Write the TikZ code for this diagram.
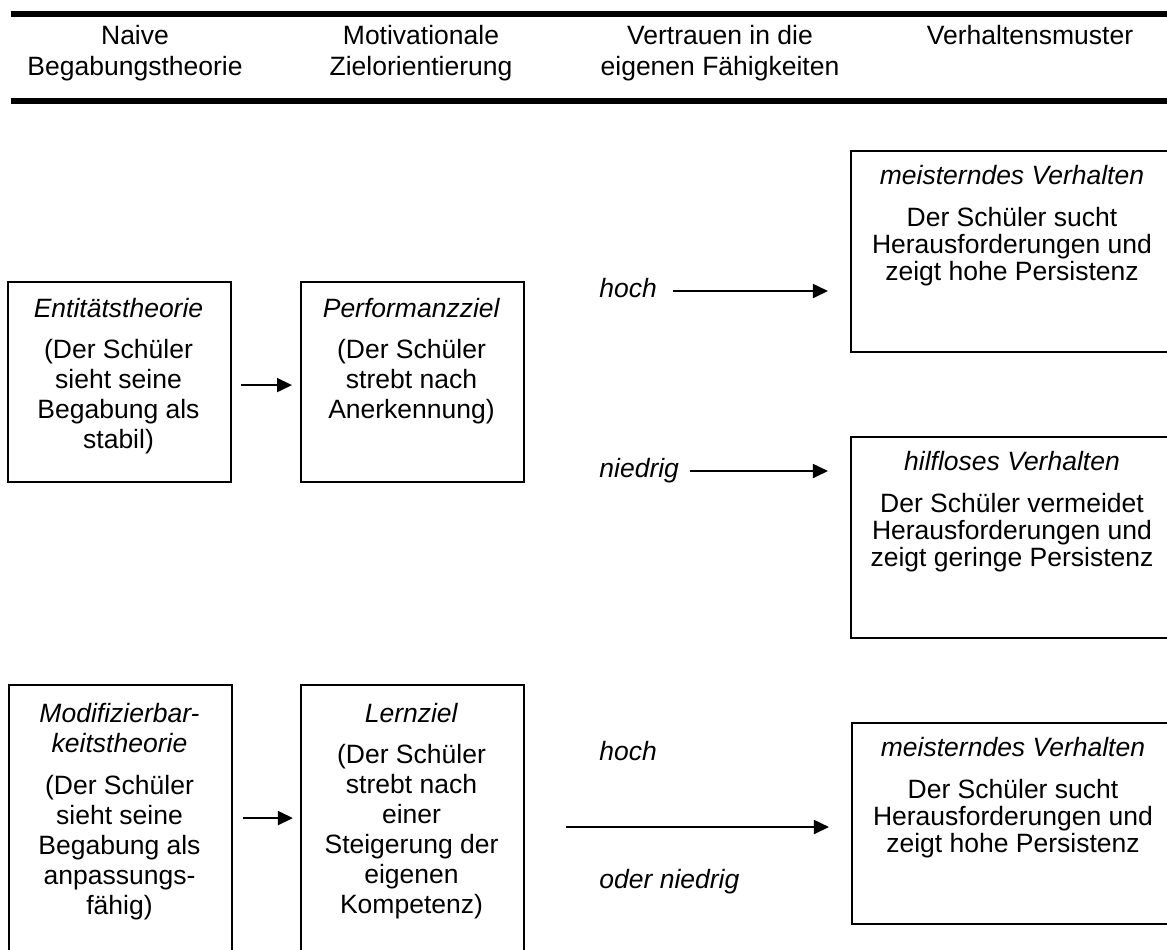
\documentclass[tikz,border=0pt]{standalone}
\usepackage{fontspec}
\setmainfont{Liberation Sans}
\usetikzlibrary{arrows.meta}
\newcommand\mystrut{\rule{0pt}{9.5pt}}
\begin{document}
\begin{tikzpicture}[x=0.4528pt,y=-0.4528pt,
  box/.style={draw, line width=0.9pt, anchor=north west, inner sep=0pt, minimum width=100.97pt, minimum height=90.56pt},
  rbox/.style={box, minimum width=147.2pt, minimum height=91pt},
  lbox/.style={box, minimum height=140pt},
  ltext/.style={anchor=north, inner sep=0pt, align=center, font=\fontsize{12}{13.6}\selectfont},
  rtext/.style={anchor=north, inner sep=0pt, align=center, font=\fontsize{12}{12.2}\selectfont},
  htext/.style={anchor=north, inner sep=0pt, align=center, font=\fontsize{12}{13.8}\selectfont},
  lab/.style={anchor=base west, inner sep=0pt, font=\fontsize{12}{13.6}\selectfont\itshape},
  arr/.style={line width=0.9pt, -{Triangle[length=6.8pt,width=6.3pt]}},
  hline/.style={line width=2.3pt}]

\useasboundingbox (0,0) rectangle (1167,949);
\fill[white] (0,0) rectangle (1167,949);
\clip (0,0) rectangle (1167,949);

% header
\draw[hline] (10.7,14) -- (1170,14);
\draw[hline] (10.7,101) -- (1170,101);
\node[htext] (h1) at (135,23.5) {\mystrut Naive\\Begabungstheorie};
\node[htext] (h2) at (421,23.5) {\mystrut Motivationale\\Zielorientierung};
\node[htext] (h3) at (720,23.5) {\mystrut Vertrauen in die\\eigenen Fähigkeiten};
\node[htext] (h4) at (1030,23.5) {\mystrut Verhaltensmuster};

% boxes
\node[box] (b1) at (7,281) {};
\node[box] (b2) at (300,281) {};
\node[lbox] (b3) at (8,684) {};
\node[lbox] (b4) at (300,684) {};
\node[rbox] (bA) at (850,150) {};
\node[rbox] (bB) at (850,436) {};
\node[rbox] (bC) at (851,722) {};

% box texts
\node[ltext] (t1) at (118.5,296) {\mystrut\textit{Entitätstheorie}\\[5pt](Der Schüler\\sieht seine\\Begabung als\\stabil)};
\node[ltext] (t2) at (411.5,296) {\mystrut\textit{Performanzziel}\\[5pt](Der Schüler\\strebt nach\\Anerkennung)};
\node[ltext] (t3) at (119.5,701) {\mystrut\textit{Modifizierbar-}\\\textit{keitstheorie}\\[5.5pt](Der Schüler\\sieht seine\\Begabung als\\anpassungs-\\fähig)};
\node[ltext] (t4) at (411.5,701) {\mystrut\textit{Lernziel}\\[5pt](Der Schüler\\strebt nach\\einer\\Steigerung der\\eigenen\\Kompetenz)};
\node[rtext] (tA) at (1012,163) {\mystrut\textit{meisterndes Verhalten}\\[7pt]Der Schüler sucht\\Herausforderungen und\\zeigt hohe Persistenz};
\node[rtext] (tB) at (1012,449) {\mystrut\textit{hilfloses Verhalten}\\[7pt]Der Schüler vermeidet\\Herausforderungen und\\zeigt geringe Persistenz};
\node[rtext] (tC) at (1013,735) {\mystrut\textit{meisterndes Verhalten}\\[7pt]Der Schüler sucht\\Herausforderungen und\\zeigt hohe Persistenz};

% labels
\node[lab] (l1) at (599,297) {hoch};
\node[lab] (l2) at (599,477) {niedrig};
\node[lab] (l3) at (599,760) {hoch};
\node[lab] (l4) at (599,888) {oder niedrig};

% arrows
\coordinate (s1) at (673,291);
\coordinate (s2) at (690,471);
\coordinate (s3) at (566,827);
\draw[arr, shorten >=9.96pt] (s1) -- (s1 -| bA.west);
\draw[arr, shorten >=9.96pt] (s2) -- (s2 -| bB.west);
\draw[arr, shorten >=9.96pt] (s3) -- (s3 -| bC.west);
\draw[arr, shorten <=4.1pt, shorten >=3.6pt] ([yshift=-1.4pt]b1.east) -- ([yshift=-1.4pt]b2.west);
\draw[arr, shorten <=4.5pt, shorten >=3.2pt] ([yshift=-60.7pt]b3.north east) -- ([yshift=-60.7pt]b4.north west);
\end{tikzpicture}
\end{document}
